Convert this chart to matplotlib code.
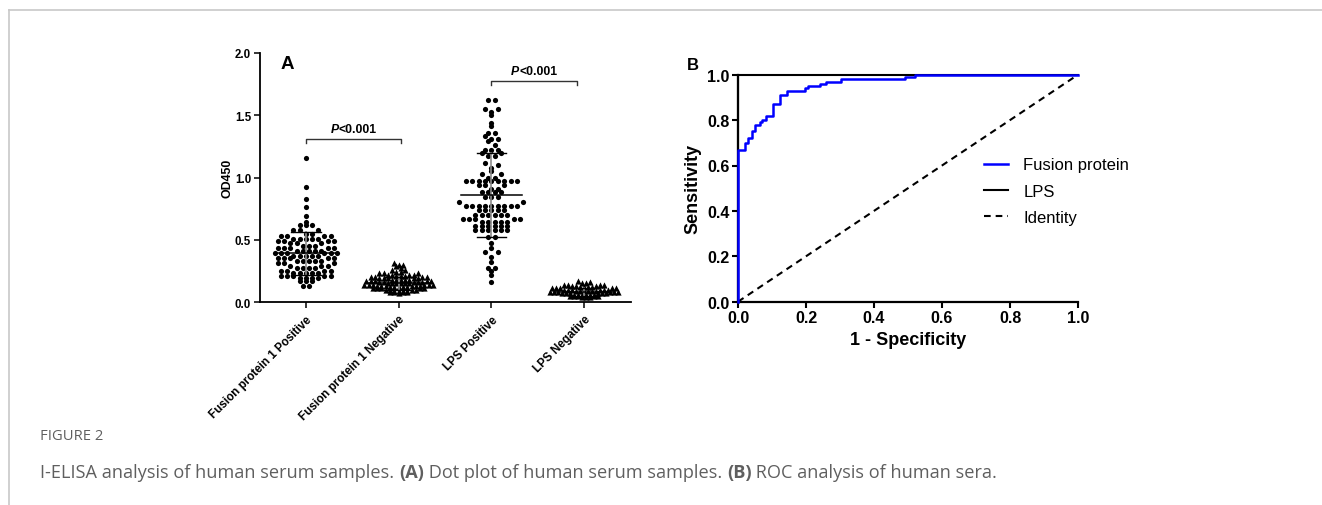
import numpy as np
import matplotlib
matplotlib.use("Agg")
import matplotlib.pyplot as plt
from matplotlib.lines import Line2D
from matplotlib.transforms import offset_copy

plt.rcParams['font.family'] = ['Liberation Sans', 'DejaVu Sans']

categorias = ['Fusion protein 1 Positive', 'Fusion protein 1 Negative',
              'LPS Positive', 'LPS Negative']

fp1_pos_niveles = [1.16, 0.92, 0.83, 0.76, 0.69, 0.64, 0.62, 0.58, 0.55, 0.53, 0.51,
                   0.49, 0.47, 0.45, 0.43, 0.41, 0.39, 0.37, 0.35, 0.33, 0.31, 0.29,
                   0.27, 0.25, 0.23, 0.21, 0.19, 0.17, 0.13]
fp1_pos_cuentas = [1, 1, 1, 1, 1, 1, 3, 3, 2, 4, 5,
                   4, 3, 3, 5, 5, 6, 5, 5, 5, 3, 3,
                   4, 4, 5, 5, 4, 3, 2]

fp1_neg_niveles = [0.31, 0.30, 0.29, 0.27, 0.26, 0.24, 0.23, 0.22, 0.21, 0.20, 0.19,
                   0.18, 0.17, 0.16, 0.15, 0.14, 0.13, 0.12, 0.11, 0.10, 0.09, 0.08, 0.07]
fp1_neg_cuentas = [1, 2, 1, 1, 2, 2, 3, 4, 3, 4, 5,
                   5, 5, 5, 6, 6, 6, 5, 5, 4, 4, 4, 1]

lps_pos_niveles = [1.62, 1.55, 1.53, 1.50, 1.44, 1.41, 1.36, 1.33, 1.31, 1.29, 1.26,
                   1.22, 1.20, 1.17, 1.12, 1.10, 1.08, 1.05, 1.03, 1.00, 0.97, 0.94,
                   0.91, 0.88, 0.84, 0.80, 0.77, 0.74, 0.70, 0.67, 0.64, 0.61, 0.58,
                   0.52, 0.47, 0.43, 0.40, 0.36, 0.32, 0.27, 0.25, 0.22, 0.16]
lps_pos_cuentas = [2, 2, 1, 1, 1, 1, 2, 1, 2, 1, 1,
                   3, 2, 2, 1, 1, 1, 1, 2, 2, 9, 3,
                   2, 4, 3, 2, 9, 5, 6, 5, 5, 6, 6,
                   2, 1, 1, 2, 1, 1, 2, 1, 1, 1]

lps_neg_niveles = [0.17, 0.16, 0.15, 0.14, 0.13, 0.12, 0.11, 0.10, 0.09, 0.08,
                   0.07, 0.06, 0.05, 0.04]
lps_neg_cuentas = [1, 1, 2, 4, 3, 4, 5, 6, 6, 6, 6, 6, 5, 3]

medias = [0.39, 0.15, 0.86, 0.08]
desv = [0.17, 0.05, 0.34, 0.03]

# ---- datos panel B (curva ROC de la proteina de fusion)
roc_fpr = [0.00, 0.00, 0.02, 0.03, 0.04, 0.05, 0.064, 0.072, 0.082, 0.103, 0.124,
           0.144, 0.196, 0.206, 0.241, 0.26, 0.304, 0.49, 0.52, 1.00]
roc_tpr = [0.00, 0.67, 0.70, 0.72, 0.75, 0.78, 0.79, 0.80, 0.82, 0.87, 0.91,
           0.93, 0.94, 0.95, 0.96, 0.97, 0.98, 0.99, 1.00, 1.00]
lps_fpr = [0.0, 0.0, 1.0]
lps_tpr = [0.0, 1.0, 1.0]


def filas(valores, alto):
    # agrupa los valores en filas (como Prism) y reparte cada fila del centro hacia afuera,
    # los mas bajos quedan al centro -> forma de "V"
    valores = np.sort(np.asarray(valores, float))
    cajon = np.floor(valores / alto + 1e-6).astype(int)
    xs, ys = [], []
    for c in np.unique(cajon):
        v = np.sort(valores[cajon == c])
        n = len(v)
        pos = np.arange(n) - (n - 1) / 2
        orden = sorted(range(n), key=lambda k: (abs(pos[k]), -pos[k]))
        for val, k in zip(v, orden):
            xs.append(pos[k])
            ys.append(val)
    return np.array(xs), np.array(ys)


W, H = 1322, 506
fig = plt.figure(figsize=(W / 100, H / 100), dpi=100)

# marco gris de la pagina
fig.add_artist(Line2D([9 / W, 1], [1 - 11 / H, 1 - 11 / H], color='#c8c8c8', lw=1.2))
fig.add_artist(Line2D([9 / W, 9 / W], [0, 1 - 11 / H], color='#c8c8c8', lw=1.2))

# ================= panel A =================
axA = fig.add_axes([259.5 / W, 1 - 303 / H, 371 / W, 249 / H])
px_por_x = 371 / 4.0

grupos = [
    (fp1_pos_niveles, fp1_pos_cuentas, 'o', 0.045, 6.2, 14),
    (fp1_neg_niveles, fp1_neg_cuentas, '^', 0.03, 4.3, 20),
    (lps_pos_niveles, lps_pos_cuentas, 'o', 0.045, 6.4, 14),
    (lps_neg_niveles, lps_neg_cuentas, '^', 0.03, 4.0, 20),
]
for i, (niv, cue, marca, alto, paso, tam) in enumerate(grupos):
    xs, ys = filas(np.repeat(niv, cue), alto)
    axA.scatter(i + xs * paso / px_por_x, ys, marker=marca, s=tam, color='black',
                lw=0, zorder=3)

for i in range(4):
    m, s = medias[i], desv[i]
    axA.plot([i, i], [m - s, m + s], color='#8c8c8c', lw=1.2, zorder=4)
    axA.plot([i - 0.33, i + 0.33], [m, m], color='black', lw=1.1, zorder=5)
    axA.plot([i - 0.16, i + 0.16], [m + s, m + s], color='black', lw=1.0, zorder=5)
    axA.plot([i - 0.16, i + 0.16], [m - s, m - s], color='black', lw=1.0, zorder=5)

# corchetes de significancia con "P" en cursiva
render = fig.canvas.get_renderer()
for (a, b, yb) in [(0.0, 1.03, 1.31), (2.0, 2.92, 1.775)]:
    axA.plot([a, a, b, b], [yb - 0.035, yb, yb, yb - 0.035], color='#333333', lw=1.0)
    xc = (a + b) / 2
    tP = axA.text(xc, yb + 0.03, 'P', ha='left', va='bottom', fontsize=8.8,
                  fontweight='bold', fontstyle='italic')
    tR = axA.text(xc, yb + 0.03, '<0.001', ha='left', va='bottom', fontsize=8.8,
                  fontweight='bold')
    wP = tP.get_window_extent(render).width
    wR = tR.get_window_extent(render).width
    tP.set_transform(offset_copy(axA.transData, fig, x=-(wP + wR) / 2, y=0, units='dots'))
    tR.set_transform(offset_copy(axA.transData, fig, x=-(wP + wR) / 2 + wP, y=0, units='dots'))

axA.set_xlim(-0.5, 3.5)
axA.set_ylim(0, 2.0)
axA.set_yticks([0, 0.5, 1.0, 1.5, 2.0])
axA.set_yticklabels(['0.0', '0.5', '1.0', '1.5', '2.0'], fontsize=8.3, fontweight='bold')
axA.set_xticks(range(4))
axA.set_xticklabels(categorias, rotation=45, ha='right', rotation_mode='anchor',
                    fontsize=8.4, fontweight='bold')
axA.tick_params(direction='out', length=4, width=1.1, pad=2)
axA.tick_params(axis='x', pad=4)
for lado in ['top', 'right']:
    axA.spines[lado].set_visible(False)
for lado in ['left', 'bottom']:
    axA.spines[lado].set_linewidth(1.3)
axA.set_ylabel('OD450', fontsize=8.9, fontweight='bold', labelpad=1)
axA.text(0.074, 0.956, 'A', transform=axA.transAxes, ha='center', va='center',
         fontsize=13.5, fontweight='bold')

# ================= panel B =================
axB = fig.add_axes([738 / W, 1 - 302.7 / H, 340 / W, 227 / H])
axB.plot(lps_fpr, lps_tpr, color='black', lw=1.5, label='LPS', zorder=3, clip_on=False)
axB.plot(roc_fpr, roc_tpr, color='#0000ff', lw=1.8, drawstyle='steps-post',
         label='Fusion protein', zorder=4, clip_on=False)
axB.plot([0, 1], [0, 1], color='black', lw=1.5, ls=(0, (3.2, 2.4)), label='Identity', zorder=2)
axB.set_xlim(0, 1)
axB.set_ylim(0, 1)
ticks = [0, 0.2, 0.4, 0.6, 0.8, 1.0]
axB.set_xticks(ticks)
axB.set_yticks(ticks)
axB.set_xticklabels([f'{t:.1f}' for t in ticks], fontsize=11.5, fontweight='bold')
axB.set_yticklabels([f'{t:.1f}' for t in ticks], fontsize=11.5, fontweight='bold')
axB.tick_params(direction='out', length=4, width=1.5, pad=2)
for lado in ['top', 'right']:
    axB.spines[lado].set_visible(False)
for lado in ['left', 'bottom']:
    axB.spines[lado].set_linewidth(1.6)
axB.set_xlabel('1 - Specificity', fontsize=13, fontweight='bold', labelpad=4)
axB.set_ylabel('Sensitivity', fontsize=13, fontweight='bold', labelpad=4)
fig.text(693 / W, 1 - 66 / H, 'B', ha='center', va='center', fontsize=12, fontweight='bold')

h, l = axB.get_legend_handles_labels()
orden = [l.index('Fusion protein'), l.index('LPS'), l.index('Identity')]
axB.legend([h[k] for k in orden], [l[k] for k in orden], loc='upper left',
           bbox_to_anchor=((984 - 738) / 340, (302.7 - 158.5) / 227), frameon=False,
           fontsize=12, handlelength=1.45, handletextpad=0.9, labelspacing=0.68,
           borderpad=0, borderaxespad=0)

# ================= pie de figura =================
gris = '#5f5f5f'
fig.text(40 / W, 1 - 437 / H, 'FIGURE 2', fontsize=10.6, color=gris, va='center',
         family=['Open Sans', 'DejaVu Sans'])
piezas = [('I-ELISA analysis of human serum samples. ', 'normal'), ('(A)', 'bold'),
          (' Dot plot of human serum samples. ', 'normal'), ('(B)', 'bold'),
          (' ROC analysis of human sera.', 'normal')]
x = 40
for texto, peso in piezas:
    t = fig.text(x / W, 1 - 473 / H, texto, fontsize=13.1, color=gris, va='center',
                 fontweight=peso, family=['Open Sans', 'DejaVu Sans'])
    bb = t.get_window_extent(render)
    x = bb.x1

fig.savefig('out.png', dpi=100)
